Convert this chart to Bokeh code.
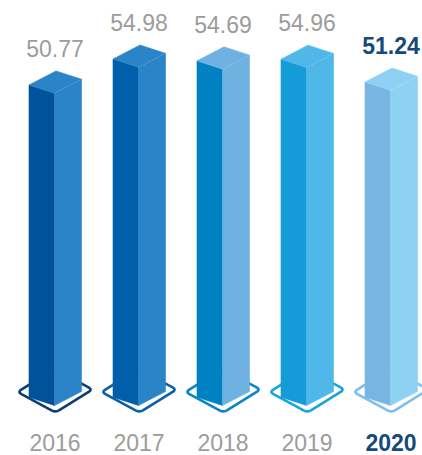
import numpy as np
from bokeh.plotting import figure
from bokeh.models import Range1d, ColumnDataSource
from bokeh.core.properties import value
from bokeh.embed import file_html
from bokeh.resources import INLINE

# ---- data ----
years = ["2016", "2017", "2018", "2019", "2020"]
values = [50.77, 54.98, 54.69, 54.96, 51.24]
left_colors = ["#00529a", "#005eab", "#0081c1", "#149bd8", "#79b5e2"]
right_colors = ["#2b84c8", "#2b84c8", "#6fb1e1", "#4fb8e8", "#8fd1f2"]
outline_colors = ["#0f3f6d", "#0c5fa9", "#0a86c8", "#1ba3de", "#7dbfea"]
label_colors = ["#9c9c9c", "#9c9c9c", "#9c9c9c", "#9c9c9c", "#164a7c"]
label_styles = ["normal", "normal", "normal", "normal", "bold"]

# ---- geometry (pixel styles) ----
W, H = 422, 455
PX_X = 84.0     # pixels per category step
PX_Y = 6.15     # pixels per value unit
X0 = 54         # canvas x of first category
BASE = 405      # canvas y of value 0

A = (-25.5, -8.3)   # front -> left corner (px, y down)
B = (27.0, -14.0)   # front -> right corner
DL, DB, DR = (-37.0, -13.5), (1.0, 7.0), (38.0, -16.0)
DT = (DL[0] + DR[0] - DB[0], DL[1] + DR[1] - DB[1])


def off(x, y, d):
    return x + d[0] / PX_X, y - d[1] / PX_Y


def rounded(corners, r=4.5, n=6):
    pts = []
    k = len(corners)
    for j in range(k):
        v = np.array(corners[j], float)
        pv = np.array(corners[j - 1], float)
        nv = np.array(corners[(j + 1) % k], float)
        p1 = v + r * (pv - v) / np.linalg.norm(pv - v)
        p2 = v + r * (nv - v) / np.linalg.norm(nv - v)
        for t in np.linspace(0, 1, n):
            q = (1 - t) ** 2 * p1 + 2 * (1 - t) * t * v + t ** 2 * p2
            pts.append(q)
    return pts


p = figure(width=W, height=H, output_backend="svg", toolbar_location=None,
           x_range=Range1d(-X0 / PX_X, (W - X0) / PX_X),
           y_range=Range1d(-(H - BASE) / PX_Y, BASE / PX_Y),
           min_border=0)
p.min_border_left = p.min_border_right = p.min_border_top = p.min_border_bottom = 0
p.axis.visible = False
p.grid.visible = False
p.outline_line_color = None
p.background_fill_color = "white"
p.border_fill_color = "white"

# diamonds (floor outlines)
dxs, dys = [], []
for i, v in enumerate(values):
    pts = rounded([DL, DB, DR, DT])
    dxs.append([i + q[0] / PX_X for q in pts])
    dys.append([0 - q[1] / PX_Y for q in pts])
p.patches(dxs, dys, fill_alpha=0, line_color=outline_colors, line_width=2.6,
          line_join="round")

# bar faces
lx, ly, rx, ry, tx, ty = [], [], [], [], [], []
ex, ey = [], []
for i, v in enumerate(values):
    ft = (i, v)
    fb = (i, 0.0)
    lt = off(*ft, A)
    lb = off(*fb, A)
    rt = off(*ft, B)
    rb = off(*fb, B)
    bk = off(*lt, B)
    lx.append([lt[0], ft[0], fb[0], lb[0]]); ly.append([lt[1], ft[1], fb[1], lb[1]])
    rx.append([ft[0], rt[0], rb[0], fb[0]]); ry.append([ft[1], rt[1], rb[1], fb[1]])
    tx.append([lt[0], ft[0], rt[0], bk[0]]); ty.append([lt[1], ft[1], rt[1], bk[1]])
    ex.append([ft[0], rt[0]]); ey.append([ft[1], rt[1]])

p.patches(lx, ly, fill_color=left_colors, line_color=left_colors, line_width=0.6)
p.patches(rx, ry, fill_color=right_colors, line_color=right_colors, line_width=0.6)
p.patches(tx, ty, fill_color=right_colors, line_color=right_colors, line_width=0.6)
p.multi_line(ex, ey, line_color="white", line_alpha=0.35, line_width=1,
             line_dash="1 2")

src = ColumnDataSource(dict(
    x=list(range(len(years))), v=values, zero=[0.0] * len(years),
    vt=[f"{v:.2f}" for v in values], yt=years,
    c=label_colors, s=label_styles))

FONT = value("Liberation Sans")
p.text(x="x", y="v", text="vt", source=src, y_offset=-45, x_offset=0.5,
       text_align="center", text_baseline="alphabetic",
       text_font=FONT, text_font_size="23px", text_color="c",
       text_font_style="s")
p.text(x="x", y="zero", text="yt", source=src, y_offset=37, x_offset=0.5,
       text_align="center", text_baseline="alphabetic",
       text_font=FONT, text_font_size="23px", text_color="c",
       text_font_style="s")

open("out.html", "w").write(file_html(p, INLINE))
